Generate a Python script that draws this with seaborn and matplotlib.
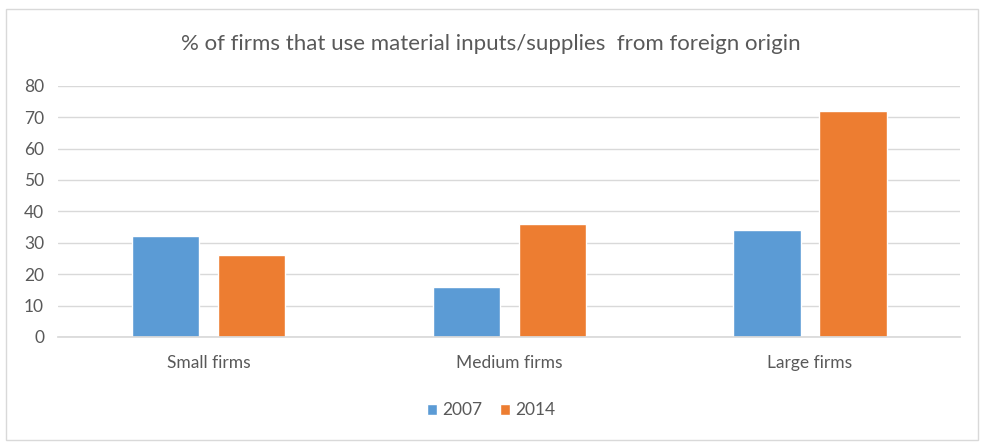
import numpy as np
import pandas as pd
import seaborn as sns
import matplotlib.pyplot as plt
from matplotlib.patches import Rectangle

categories = ["Small firms", "Medium firms", "Large firms"]
years = ["2007", "2014"]
values_2007 = [32, 16, 34]
values_2014 = [26, 36, 72]

blue = "#5B9BD5"
orange = "#ED7D31"
grey_text = "#595959"

df = pd.DataFrame({
    "firm": categories * 2,
    "year": [years[0]] * 3 + [years[1]] * 3,
    "pct": values_2007 + values_2014,
})

sns.set_theme(style="white")
plt.rcParams['font.family'] = ['Lato', 'DejaVu Sans']

fig = plt.figure(figsize=(9.82, 4.42), dpi=100)
ax = fig.add_axes([0.059, 0.2376, 0.919, 0.5685])

sns.barplot(data=df, x="firm", y="pct", hue="year", order=categories,
            hue_order=years, palette=[blue, orange], width=0.572, gap=0.22,
            saturation=1, ax=ax)

ax.set_ylim(0, 80)
ax.set_yticks(np.arange(0, 81, 10))
ax.yaxis.grid(True, color="#D9D9D9", linewidth=1)
ax.set_axisbelow(True)
for s in ax.spines.values():
    s.set_visible(False)
ax.spines['bottom'].set_visible(True)
ax.spines['bottom'].set_color("#D9D9D9")
ax.tick_params(axis='both', length=0, colors=grey_text, labelsize=12.5)
ax.tick_params(axis='x', pad=13)
ax.tick_params(axis='y', pad=10)
ax.set_xlabel("")
ax.set_ylabel("")

fig.text(0.5, 0.9, "% of firms that use material inputs/supplies  from foreign origin",
         ha='center', va='center', fontsize=16, color=grey_text)

ax.legend(loc='center', bbox_to_anchor=(0.5, 0.072), bbox_transform=fig.transFigure,
          ncol=2, frameon=False, fontsize=12.5, handlelength=0.6, handleheight=0.6,
          handletextpad=0.3, columnspacing=1.0, labelcolor=grey_text)

fig.patches.append(Rectangle((0.006, 0.005), 0.99, 0.975, transform=fig.transFigure,
                             fill=False, edgecolor="#D9D9D9", linewidth=1))

plt.savefig('out.png', dpi=100)
